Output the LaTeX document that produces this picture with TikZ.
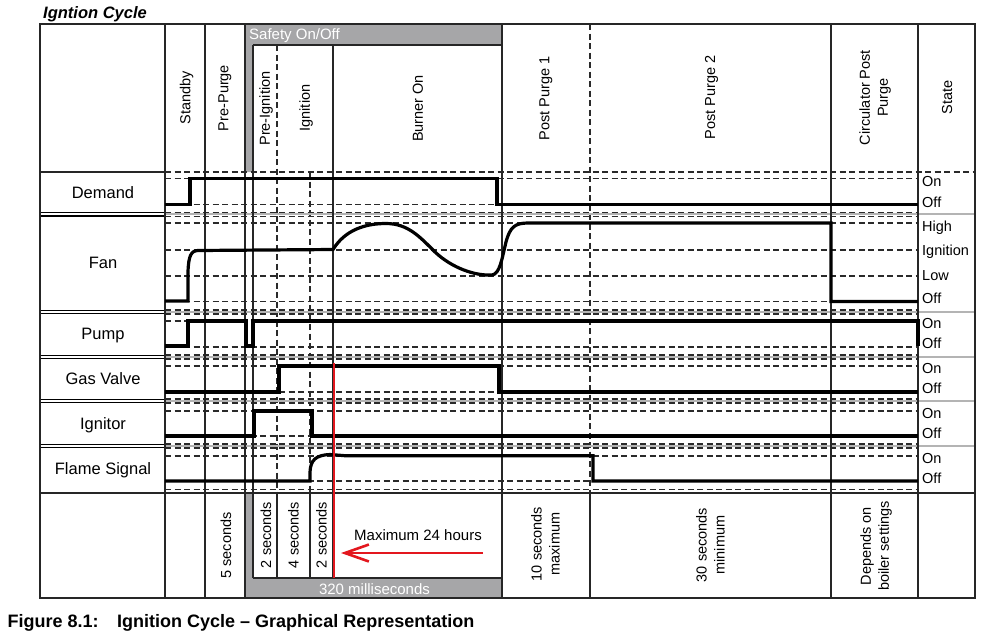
\documentclass[tikz,border=0pt]{standalone}
\usepackage{fontspec}
\setmainfont{Liberation Sans}
\usetikzlibrary{arrows.meta}
\definecolor{bandgray}{HTML}{A6A6A8}
\definecolor{sepgray}{HTML}{B4B4B4}
\definecolor{dashgray}{HTML}{2A2A2A}
\definecolor{alarmred}{HTML}{E3171E}
\tikzset{
  rule/.style={line width=2pt,draw=black!85},
  level/.style={line width=1.3pt,draw=dashgray,dash pattern=on 6pt off 3.5pt},
  rowsep/.style={line width=2.2pt,draw=sepgray},
  signal/.style={line width=3.2pt,line join=miter},
  rowlabel/.style={anchor=base,inner sep=0pt,font=\fontsize{16.5}{19}\selectfont},
  statelabel/.style={anchor=base west,inner sep=0pt,font=\fontsize{14.5}{17}\selectfont},
  phase/.style={rotate=90,align=center,inner sep=0pt,font=\fontsize{14.5}{18}\selectfont},
}
\begin{document}
\begin{tikzpicture}[x=1pt,y=-1pt]
  \useasboundingbox (0,0) rectangle (981,633);
  \fill[bandgray] (245,24) rectangle (502,45) (245,45) rectangle (253,172)
    (245,493) rectangle (253,598) (253,578) rectangle (502,598);
  \begin{scope}[level]
    \draw (165,172) -- (975,172);
    \foreach \y in {178.5,204.5,223,250,276,301.5,321,347,366,392,411,436,456,481,489.5}
      \draw (165,\y) -- (918,\y);
    \foreach \y in {214.3,312,357,401,446}
      \draw (165,\y-2) -- (918,\y-2) (165,\y+2) -- (918,\y+2);
    \draw (277,45) -- (277,493);
    \draw (310,172) -- (310,493);
    \draw (590,24) -- (590,493);
  \end{scope}
  \begin{scope}[rowsep]
    \foreach \y in {214.3,312,357,401,446}
      \draw (165,\y) -- (975,\y);
  \end{scope}
  \foreach \y in {214.3,312,357,401,446}
    \draw[line width=1.2pt] (40,\y-1.7) -- (165,\y-1.7) (40,\y+1.7) -- (165,\y+1.7);
  \begin{scope}[rule]
    \draw (40,24) rectangle (975,598);
    \draw (40,172) -- (165,172);
    \draw (40,493) -- (975,493);
    \draw (253,45) -- (502,45);
    \draw (253,578) -- (502,578);
    \foreach \x in {165,205,245,502,831,918}
      \draw (\x,24) -- (\x,598);
    \draw (253,45) -- (253,578);
    \draw (333,45) -- (333,578);
    \draw (277,493) -- (277,578);
    \draw (310,493) -- (310,578);
    \draw (590,493) -- (590,598);
  \end{scope}
  \begin{scope}[signal]
    \draw (165,204.5) -| (190,178.5) -| (497,204.5) -- (918,204.5);
    \draw (165,301) -- (188,301) -- (188,272)
      .. controls (188.5,256) and (191,250.7) .. (198,250.5) -- (333,249.5)
      .. controls (345,230) and (365,223.5) .. (386,223.5)
      .. controls (408,223.5) and (420,237) .. (435,252)
      .. controls (452,268) and (475,276) .. (492,275)
      .. controls (500,274) and (502,258) .. (506,242)
      .. controls (510,227) and (515,223) .. (528,223)
      -- (831,223) -- (831,301.5) -- (918,301.5);
    \draw (165,346) -| (188,321) -| (246,346) -| (253,321) -| (918,346);
    \draw (165,392) -| (279,366) -| (499,392) -- (918,392);
    \draw (165,436) -| (254,411) -| (312,436) -- (918,436);
    \draw (165,481) -- (310,481) -- (310,472)
      .. controls (310.5,460) and (316,455) .. (330,454.5)
      -- (345,455.7) -| (593,481) -- (918,481);
  \end{scope}
  \coordinate (limit) at (483,553);
  \coordinate (cutoff) at (341,553);
  \draw[alarmred,line width=2.8pt] (334,363) -- (334,578);
  \draw[alarmred,line width=2.6pt,-{Straight Barb[length=24pt,width=17pt]}] (limit) -- (cutoff);
  \node[anchor=base west,inner sep=0pt,font=\bfseries\itshape\fontsize{16.5}{19}\selectfont] (title) at (43,18.5) {Igntion Cycle};
  \node[anchor=base west,inner sep=0pt,font=\bfseries\fontsize{18}{21}\selectfont] (fignum) at (7.5,627) {Figure 8.1:};
  \node[anchor=base west,inner sep=0pt,font=\bfseries\fontsize{18}{21}\selectfont] (caption) at (117,627) {Ignition Cycle – Graphical Representation};
  \node[anchor=base west,inner sep=0pt,white,font=\fontsize{15}{18}\selectfont] (safety) at (249,39.5) {Safety On/Off};
  \node[anchor=base,inner sep=0pt,white,font=\fontsize{15}{18}\selectfont] (millis) at (374.5,594) {320 milliseconds};
  \node[anchor=base,inner sep=0pt,font=\fontsize{15}{18}\selectfont] (maxhours) at (418,540.5) {Maximum 24 hours};
  \node[phase] (standby) at (186.5,97.5) {Standby};
  \node[phase] (prepurge) at (225,98) {Pre-Purge};
  \node[phase] (preign) at (266,108.5) {Pre-Ignition};
  \node[phase] (ignition) at (306,108) {Ignition};
  \node[phase] (burneron) at (418,108.5) {Burner On};
  \node[phase] (postone) at (546,98.5) {Post Purge 1};
  \node[phase] (posttwo) at (711.5,97.5) {Post Purge 2};
  \node[phase] (circpost) at (875,97.5) {Circulator Post\\Purge};
  \node[phase] (state) at (947,97.5) {State};
  \node[phase] (tprepurge) at (226,545.5) {5 seconds};
  \node[phase] (tpreign) at (266,535) {2 seconds};
  \node[phase] (tign) at (293.5,535) {4 seconds};
  \node[phase] (tflame) at (321.5,535) {2 seconds};
  \node[phase] (tpostone) at (545.5,544) {10 seconds\\maximum};
  \node[phase] (tposttwo) at (710.5,545) {30 seconds\\minimum};
  \node[phase] (tcircpost) at (876,546) {Depends on\\boiler settings};
  \node[rowlabel] (demand) at (103,198.3) {Demand};
  \node[rowlabel] (fan) at (103,268.3) {Fan};
  \node[rowlabel] (pump) at (103,339) {Pump};
  \node[rowlabel] (gasvalve) at (103,384.3) {Gas Valve};
  \node[rowlabel] (ignitor) at (103,429.3) {Ignitor};
  \node[rowlabel] (flame) at (103,474) {Flame Signal};
  \node[statelabel] (demandon) at (922,186) {On};
  \node[statelabel] (demandoff) at (922,207) {Off};
  \node[statelabel] (fanhigh) at (922,231) {High};
  \node[statelabel] (fanign) at (922,255.3) {Ignition};
  \node[statelabel] (fanlow) at (922,280.3) {Low};
  \node[statelabel] (fanoff) at (922,303) {Off};
  \node[statelabel] (pumpon) at (922,328) {On};
  \node[statelabel] (pumpoff) at (922,348.6) {Off};
  \node[statelabel] (gason) at (922,373.6) {On};
  \node[statelabel] (gasoff) at (922,393.6) {Off};
  \node[statelabel] (ignon) at (922,418) {On};
  \node[statelabel] (ignoff) at (922,438.6) {Off};
  \node[statelabel] (flameon) at (922,463) {On};
  \node[statelabel] (flameoff) at (922,483) {Off};
\end{tikzpicture}
\end{document}
